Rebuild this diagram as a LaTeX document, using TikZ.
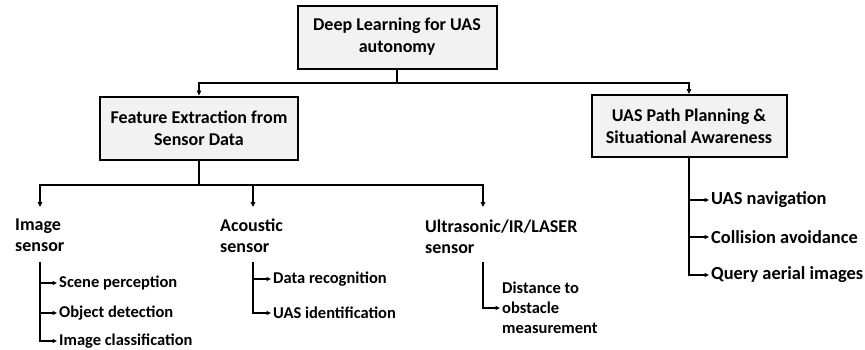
\documentclass[tikz,border=0pt]{standalone}
\usepackage{fontspec}
\setmainfont{Carlito}
\usepackage{tikz}
\usepackage{xcolor}
\usetikzlibrary{
    arrows.meta,
    positioning,
    calc
}
\definecolor{boxfill}{HTML}{F2F2F2}
\definecolor{dark}{HTML}{000000}
\tikzset{
    % Boxed topic style
    topic/.style={
        rectangle,
        minimum width=#1,
        minimum height=63pt,
        align=center,
        font=\fontsize{18}{22}\selectfont\bfseries,
        draw=dark,
        fill=boxfill,
        line width=2pt
    },
    % Sensor label style
    sensor label/.style={
        anchor=north west,
        align=left,
        inner sep=0pt,
        font=\fontsize{18}{21}\selectfont\bfseries
    },
    % Task label style
    task label/.style={
        anchor=west,
        align=left,
        inner sep=2pt,
        font=\fontsize{16.5}{20}\selectfont\bfseries
    },
    % Larger task label for the planning branch
    plan task/.style={
        task label,
        font=\fontsize{18.4}{22}\selectfont\bfseries
    },
    % Arrow styles
    flow/.style={
        -{Triangle[length=5pt, width=4.5pt]},
        line width=2pt,
        color=dark
    },
    subflow/.style={
        -{Triangle[length=4.5pt, width=4pt]},
        line width=1.4pt,
        color=dark
    }
}
\begin{document}
\begin{tikzpicture}[x=1pt, y=-1pt]
        \useasboundingbox (0,0) rectangle (865,349);

        % Top level
        \node[topic=199pt] (root) at (397, 37) {Deep Learning for UAS\\autonomy};

        % Second level
        \node[topic=198pt] (feat) at (199, 128) {Feature Extraction from\\Sensor Data};
        \node[topic=195pt, minimum height=62pt] (plan) at (689, 126) {UAS Path Planning \&\\Situational Awareness};

        % Sensors
        \node[sensor label] (img) at (15, 219) {Image\\sensor};
        \node[sensor label] (aco) at (220, 219) {Acoustic\\sensor};
        \node[sensor label] (ultra) at (425, 220) {Ultrasonic/IR/LASER\\sensor};

        % Image sensor tasks
        \node[task label] (scene) at (57, 283) {Scene perception};
        \node[task label] (objdet) at (57, 313) {Object detection};
        \node[task label] (imgcls) at (57, 341) {Image classification};

        % Acoustic sensor tasks
        \node[task label] (datarec) at (271, 279) {Data recognition};
        \node[task label] (uasid) at (271, 313) {UAS identification};

        % Ultrasonic sensor task
        \node[task label] (dist) at (500, 308) {Distance to\\obstacle\\measurement};

        % Planning tasks
        \node[plan task] (nav) at (709, 200) {UAS navigation};
        \node[plan task] (coll) at (709, 237) {Collision avoidance};
        \node[plan task] (query) at (709, 275) {Query aerial images};

        % Branch points
        \coordinate (img-in) at (40, 207);
        \coordinate (aco-in) at (253, 207);
        \coordinate (ultra-in) at (483, 207);
        \coordinate (img-out) at (40, 262);
        \coordinate (aco-out) at (253, 262);
        \coordinate (ultra-out) at (483, 262);

        % Connections
        \draw[flow] (root.south) -- ++(0,13) -| (feat.north);
        \draw[flow] (root.south) -- ++(0,13) -| (plan.north);

        \draw[flow] (feat.south) -- ++(0,24) -| (img-in);
        \draw[flow] (feat.south) -- ++(0,24) -| (aco-in);
        \draw[flow] (feat.south) -- ++(0,24) -| (ultra-in);

        \draw[subflow] (img-out) |- (scene.west);
        \draw[subflow] (img-out) |- (objdet.west);
        \draw[subflow] (img-out) |- (imgcls.west);

        \draw[subflow] (aco-out) |- (datarec.west);
        \draw[subflow] (aco-out) |- (uasid.west);

        \draw[subflow] (ultra-out) |- (dist.west);

        \draw[subflow] (plan.south) |- (nav.west);
        \draw[subflow] (plan.south) |- (coll.west);
        \draw[subflow] (plan.south) |- (query.west);

    \end{tikzpicture}
\end{document}
